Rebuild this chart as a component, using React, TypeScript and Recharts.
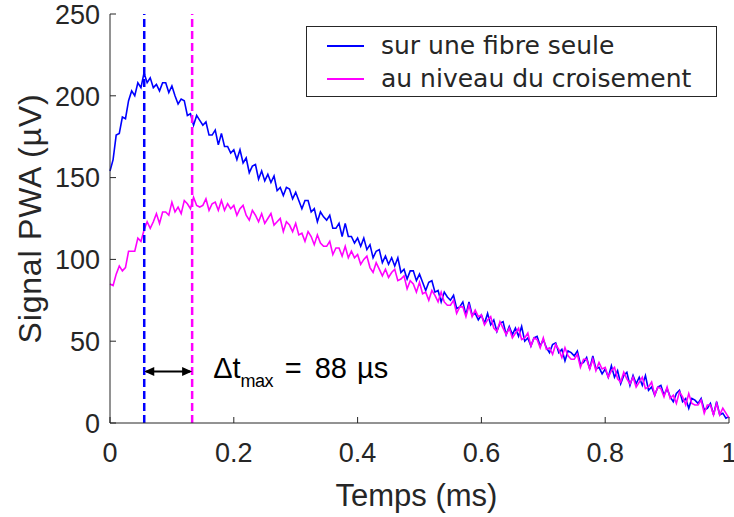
import React from "react"
import {
  LineChart,
  Line,
  XAxis,
  YAxis,
  ReferenceLine,
  Legend,
} from "recharts"

// sampled every 5 µs (0.005 ms) from 0 to 1 ms
const TIME_STEP = 0.005

const SERIES = ["sur une fibre seule", "au niveau du croisement"]

// "sur une fibre seule" (µV)
const BLUE = [
  154, 161, 176, 177, 187, 186, 197, 203, 200, 208,
  205, 214, 208, 211, 205, 207, 203, 208, 208, 202,
  206, 200, 195, 198, 197, 188, 189, 182, 188, 185,
  182, 184, 176, 176, 179, 170, 177, 169, 169, 165,
  167, 161, 167, 159, 162, 153, 157, 158, 149, 154,
  148, 152, 147, 151, 142, 144, 139, 144, 143, 137,
  141, 136, 131, 136, 136, 129, 131, 123, 129, 126,
  124, 127, 119, 119, 122, 114, 122, 114, 114, 110,
  113, 108, 113, 106, 109, 101, 105, 106, 98, 102,
  97, 101, 96, 101, 92, 94, 88, 93, 93, 87,
  91, 86, 81, 86, 87, 80, 81, 74, 80, 77,
  75, 78, 70, 71, 74, 66, 74, 66, 67, 63,
  66, 61, 67, 60, 63, 56, 61, 62, 54, 59,
  54, 58, 53, 59, 50, 52, 47, 52, 53, 47,
  51, 46, 43, 48, 49, 43, 45, 38, 44, 43,
  41, 44, 36, 37, 40, 33, 41, 33, 34, 30,
  33, 28, 35, 28, 32, 24, 29, 31, 23, 29,
  24, 28, 23, 29, 20, 22, 17, 22, 23, 17,
  21, 16, 13, 18, 20, 13, 15, 9, 15, 14,
  12, 15, 8, 9, 12, 5, 13, 5, 6, 3,
  4,
]

// "au niveau du croisement" (µV)
const MAGENTA = [
  85, 84, 91, 96, 93, 95, 105, 105, 105, 113,
  111, 118, 123, 119, 123, 128, 122, 129, 129, 127,
  135, 129, 132, 128, 136, 134, 131, 138, 133, 132,
  133, 137, 130, 134, 135, 130, 136, 130, 134, 131,
  133, 127, 131, 133, 127, 124, 130, 127, 123, 128,
  122, 125, 128, 121, 123, 125, 117, 123, 121, 117,
  122, 115, 116, 111, 117, 114, 109, 115, 110, 108,
  108, 111, 103, 107, 107, 102, 108, 101, 105, 101,
  103, 97, 100, 102, 95, 92, 98, 94, 90, 94,
  89, 92, 94, 87, 88, 90, 82, 87, 85, 80,
  86, 79, 80, 75, 81, 78, 74, 80, 74, 72,
  72, 75, 67, 71, 71, 65, 72, 65, 69, 65,
  66, 60, 63, 65, 58, 56, 62, 58, 54, 58,
  52, 55, 58, 51, 52, 55, 47, 52, 51, 46,
  52, 45, 46, 42, 48, 45, 40, 46, 41, 39,
  39, 42, 34, 39, 39, 33, 39, 32, 37, 33,
  34, 28, 32, 34, 27, 25, 31, 27, 24, 28,
  22, 25, 28, 21, 22, 25, 17, 22, 21, 16,
  22, 15, 17, 12, 19, 16, 11, 18, 12, 11,
  11, 14, 6, 11, 11, 5, 12, 5, 9, 6,
  3,
]

const X_TICKS = [0, 0.2, 0.4, 0.6, 0.8, 1]
const Y_TICKS = [0, 50, 100, 150, 200, 250]

// instants des maxima (ms) et niveau de la flèche (µV)
const PEAK_SINGLE = 0.0553
const PEAK_CROSS = 0.1327
const ARROW_LEVEL = 31.5

const data = BLUE.map((v, i) => ({
  t: +(i * TIME_STEP).toFixed(3),
  fibre: v,
  croisement: MAGENTA[i],
}))

const AXIS = "#262626"
const FONT = "'Liberation Sans', Arial, sans-serif"
const TICK_LEN = 6
const X_MARGIN = 20
const Y_MARGIN = 10

const fmt = (v: number) => String(v)

function BottomTick({ x, y, payload }: any) {
  const axisY = y - X_MARGIN
  return (
    <g>
      <line x1={x} x2={x} y1={axisY} y2={axisY - TICK_LEN} stroke={AXIS} />
      <text x={x} y={y} dy="0.71em" textAnchor="middle" fill={AXIS} fontSize={27} fontFamily={FONT}>
        {fmt(payload.value)}
      </text>
    </g>
  )
}

function LeftTick({ x, y, payload }: any) {
  const axisX = x + Y_MARGIN
  return (
    <g>
      <line x1={axisX} x2={axisX + TICK_LEN} y1={y} y2={y} stroke={AXIS} />
      <text x={x} y={y} dy="0.36em" textAnchor="end" fill={AXIS} fontSize={27} fontFamily={FONT}>
        {fmt(payload.value)}
      </text>
    </g>
  )
}

function TopTick({ x, y }: any) {
  return <line x1={x} x2={x} y1={y} y2={y + TICK_LEN} stroke={AXIS} />
}

function RightTick({ x, y }: any) {
  return <line x1={x} x2={x - TICK_LEN} y1={y} y2={y} stroke={AXIS} />
}

function LegendBox({ payload }: any) {
  const items = [...(payload ?? [])].sort(
    (a: any, b: any) => SERIES.indexOf(a.value) - SERIES.indexOf(b.value)
  )
  return (
    <div
      style={{
        width: 411,
        height: 71,
        boxSizing: "border-box",
        border: `1px solid ${AXIS}`,
        background: "#fff",
        paddingTop: 2,
        fontFamily: "'DejaVu Sans', sans-serif",
        fontSize: 25,
        color: AXIS,
      }}
    >
      {items.map((p: any) => (
        <div key={p.value} style={{ display: "flex", alignItems: "center", height: 33 }}>
          <span style={{ width: 37, height: 2, background: p.color, marginLeft: 20, marginRight: 17 }} />
          <span style={{ whiteSpace: "nowrap" }}>{p.value}</span>
        </div>
      ))}
    </div>
  )
}

function DoubleArrow(props: any) {
  const { x1, y1, x2, y2 } = props
  const h = 10
  const w = 4.5
  return (
    <g>
      <line x1={x1 + 2} y1={y1} x2={x2 - 2} y2={y2} stroke="#000" strokeWidth={2} />
      <polygon points={`${x1},${y1} ${x1 + h},${y1 - w} ${x1 + h},${y1 + w}`} fill="#000" />
      <polygon points={`${x2},${y2} ${x2 - h},${y2 - w} ${x2 - h},${y2 + w}`} fill="#000" />
    </g>
  )
}

function DeltaLabel({ viewBox }: any) {
  const x = viewBox.x + viewBox.width + 21
  const y = viewBox.y + 7
  return (
    <text x={x} y={y} fill="#000" fontFamily={FONT} fontSize={29}>
      <tspan>Δt</tspan>
      <tspan fontSize={18} dy={9} letterSpacing={-0.6}>max</tspan>
      <tspan dy={-9} dx={12}>=</tspan>
      <tspan dx={13}>88</tspan>
      <tspan dx={10}>µs</tspan>
    </text>
  )
}

function YTitle({ viewBox }: any) {
  const x = viewBox.x + 30
  const y = viewBox.y + viewBox.height / 2
  return (
    <text
      x={x}
      y={y}
      transform={`rotate(-90 ${x} ${y})`}
      textAnchor="middle"
      dominantBaseline="central"
      fill={AXIS}
      fontFamily={FONT}
      fontSize={32}
      letterSpacing={0.8}
    >
      Signal PWA (µV)
    </text>
  )
}

function XTitle({ viewBox }: any) {
  return (
    <text
      x={viewBox.x + viewBox.width / 2 - 3}
      y={viewBox.y + 83}
      textAnchor="middle"
      fill={AXIS}
      fontFamily={FONT}
      fontSize={31}
    >
      Temps (ms)
    </text>
  )
}

export default function App() {
  return (
    <div style={{ position: "absolute", left: 0, top: 0, background: "#fff" }}>
      <LineChart width={734} height={517} data={data} margin={{ top: 14, right: 5, bottom: 0, left: 0 }}>
        <XAxis
          dataKey="t"
          type="number"
          domain={[0, 1]}
          ticks={X_TICKS}
          height={94}
          tickSize={0}
          tickMargin={X_MARGIN}
          tickLine={false}
          axisLine={{ stroke: AXIS }}
          tick={<BottomTick />}
          label={{ content: <XTitle /> }}
        />
        <XAxis
          xAxisId="top"
          orientation="top"
          type="number"
          domain={[0, 1]}
          ticks={X_TICKS}
          height={0}
          tickSize={0}
          tickMargin={0}
          tickLine={false}
          axisLine={{ stroke: AXIS }}
          tick={<TopTick />}
        />
        <YAxis
          type="number"
          domain={[0, 250]}
          ticks={Y_TICKS}
          width={110}
          tickSize={0}
          tickMargin={Y_MARGIN}
          tickLine={false}
          axisLine={{ stroke: AXIS }}
          tick={<LeftTick />}
          label={{ content: <YTitle /> }}
        />
        <YAxis
          yAxisId="right"
          orientation="right"
          type="number"
          domain={[0, 250]}
          ticks={Y_TICKS}
          width={0}
          tickSize={0}
          tickMargin={0}
          tickLine={false}
          axisLine={{ stroke: AXIS }}
          tick={<RightTick />}
        />
        <Line
          type="linear"
          dataKey="fibre"
          name={SERIES[0]}
          stroke="#0000ff"
          strokeWidth={1.6}
          dot={false}
          isAnimationActive={false}
        />
        <Line
          type="linear"
          dataKey="croisement"
          name={SERIES[1]}
          stroke="#ff00ff"
          strokeWidth={1.6}
          dot={false}
          isAnimationActive={false}
        />
        <ReferenceLine x={PEAK_SINGLE} stroke="#0000ff" strokeWidth={2.5} strokeDasharray="8 4" />
        <ReferenceLine x={PEAK_CROSS} stroke="#ff00ff" strokeWidth={2.5} strokeDasharray="8 4" />
        <ReferenceLine
          segment={[
            { x: PEAK_SINGLE, y: ARROW_LEVEL },
            { x: PEAK_CROSS, y: ARROW_LEVEL },
          ]}
          shape={<DoubleArrow />}
          label={{ content: <DeltaLabel /> }}
        />
        <Legend
          layout="vertical"
          align="center"
          verticalAlign="middle"
          content={<LegendBox />}
          wrapperStyle={{ left: 306, top: 26, width: 411, height: 71 }}
        />
      </LineChart>
    </div>
  )
}
